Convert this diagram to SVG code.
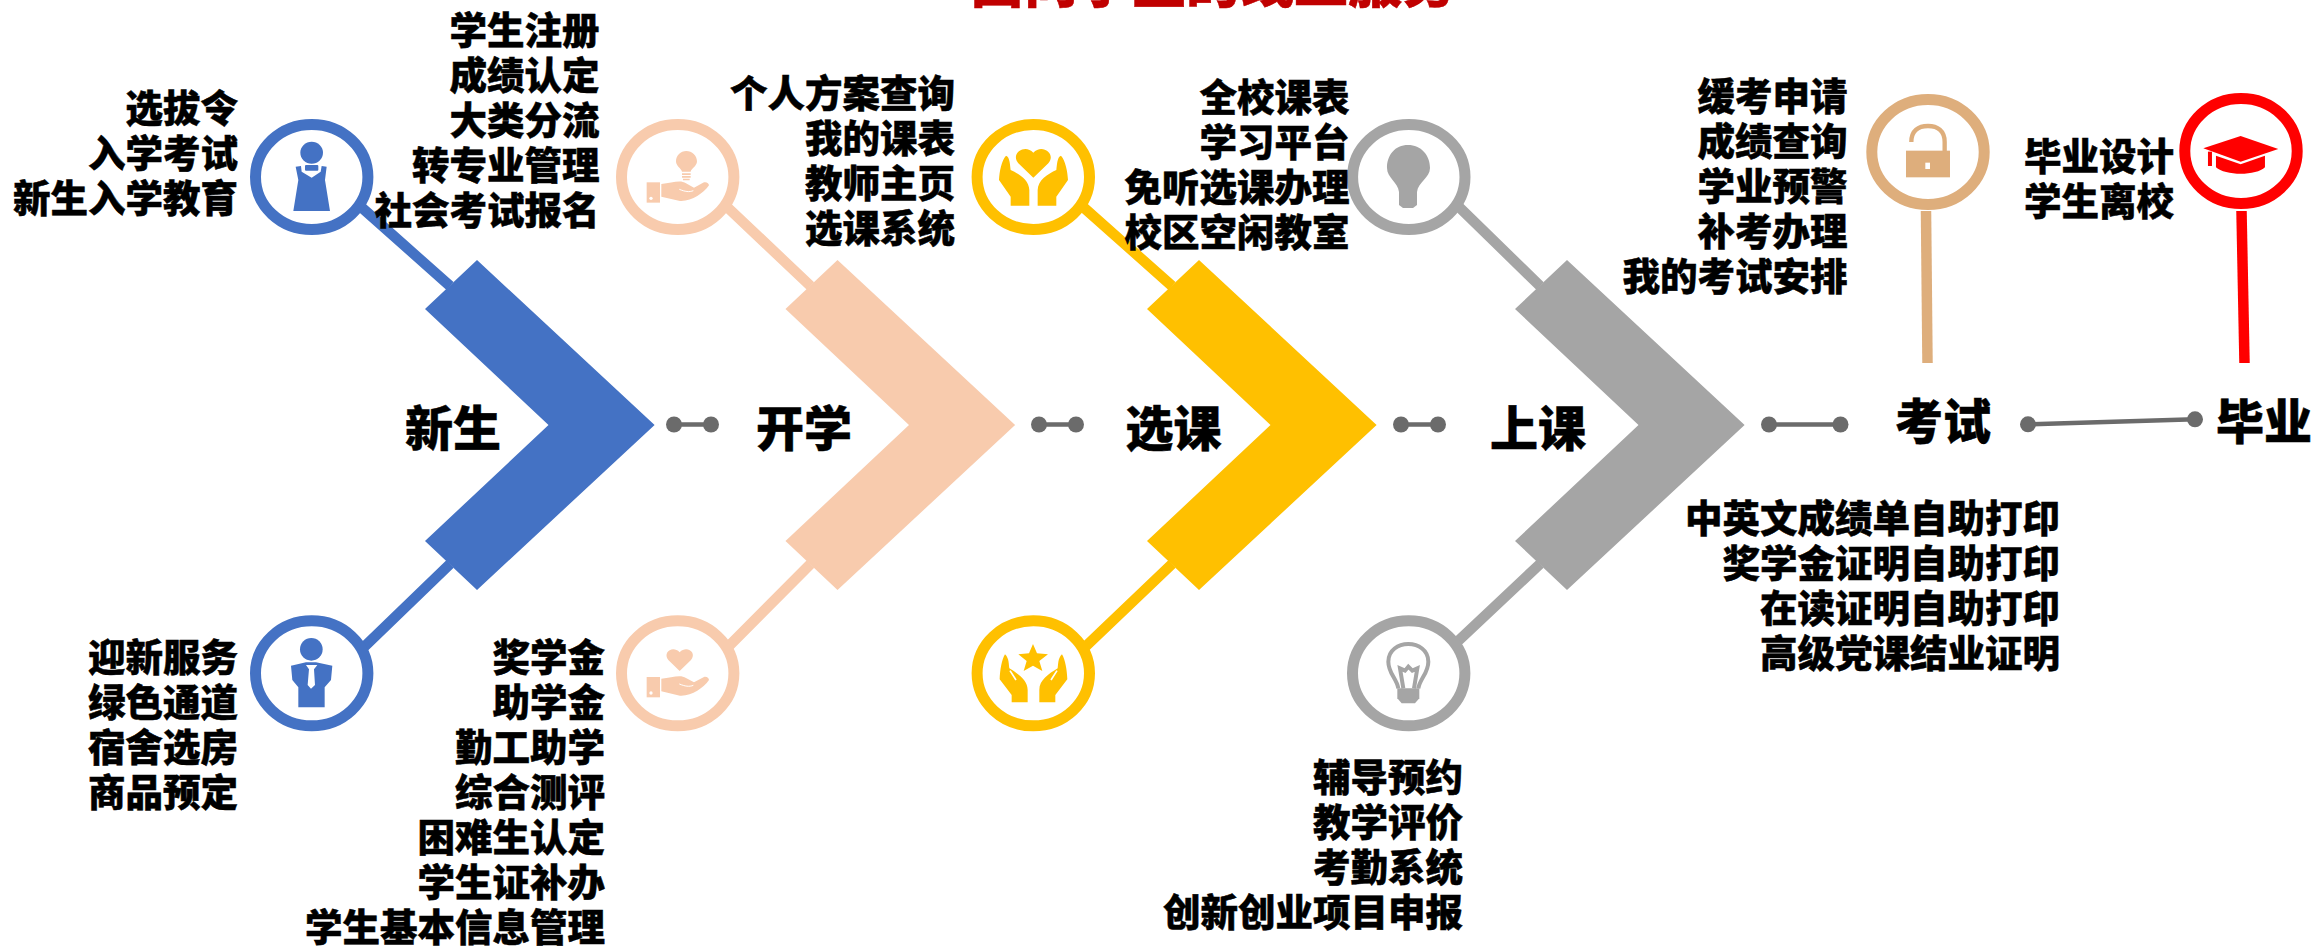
<svg xmlns="http://www.w3.org/2000/svg" xmlns:xlink="http://www.w3.org/1999/xlink" width="2317" height="948" viewBox="0 0 2317 948">
<style>
text{font-family:"Noto Sans CJK SC","Noto Sans",sans-serif;font-weight:900;fill:#000;stroke:#000;stroke-width:.5px}
.l{font-size:37.5px;text-anchor:end}
.s{font-size:48px;text-anchor:middle}
.t{font-size:54px;text-anchor:middle;fill:#C00000;stroke:#C00000}
.b{fill:#4472C4;stroke:#4472C4}.p{fill:#F8CBAD;stroke:#F8CBAD}.y{fill:#FFC000;stroke:#FFC000}.g{fill:#A5A5A5;stroke:#A5A5A5}.n{fill:#DEAE7C;stroke:#DEAE7C}.r{fill:#FF0000;stroke:#FF0000}
.ring{fill:#fff;stroke-width:11}
.ic{stroke:none}
.spoke{stroke-width:10.5;fill:none}
.link{stroke:#6B6B6B;stroke-width:4.5;fill:#6B6B6B}
.dot{fill:#6B6B6B;stroke:none}
</style>
<defs>
<polygon id="chev" points="477,260 654.6,425 477,590 425,541 548.5,425 425,309"/>
<g id="hand">
<rect x="140" y="247" width="40" height="61"/>
<circle cx="153" cy="295" r="5" fill="#fff"/>
<path d="M184 252C215 250 240 238 258 250L282 263L312 247C320 245 327 250 327 256C310 280 275 305 240 303L184 290Z"/>
<path d="M238 268C255 275 268 277 280 272" fill="none" stroke="#fff" stroke-width="3"/>
</g>
<path id="hh" d="M138 167C150 170 150 198 152 210C178 222 207 240 208 270L208 317L152 317L152 290L117 240C118 215 125 180 138 167Z"/>
<path id="hs" d="M135 163C148 175 146 195 148 205C175 222 203 240 203 270L203 307L155 307L155 285L119 238C120 210 125 180 135 163Z"/>
</defs>
<text class="t" x="1213" y="3">面向学生的线上服务</text>
<g id="connectors">
<g class="b"><path class="spoke" d="M360 206L450 286M362 649L450 564"/></g>
<g class="p"><path class="spoke" d="M726 206L810.5 286M726 649L810.5 564"/></g>
<g class="y"><path class="spoke" d="M1082 206L1172 286M1084 648L1172 564"/></g>
<g class="g"><path class="spoke" d="M1458 206L1540 286M1456 643L1540 564"/></g>
<path class="spoke n" d="M1926 211L1927.5 363"/>
<path class="spoke r" d="M2241.5 211L2244.5 363"/>
<g class="link">
<path d="M674 424.5H711M1039 424.5H1076M1401 424.5H1438M1769 424.5H1840.5M2028 424.3L2195 419.3"/>
<circle class="dot" cx="674" cy="424.5" r="8"/><circle class="dot" cx="711" cy="424.5" r="8"/>
<circle class="dot" cx="1039" cy="424.5" r="8"/><circle class="dot" cx="1076" cy="424.5" r="8"/>
<circle class="dot" cx="1401" cy="424.5" r="8"/><circle class="dot" cx="1438" cy="424.5" r="8"/>
<circle class="dot" cx="1769" cy="424.5" r="8"/><circle class="dot" cx="1840.5" cy="424.5" r="8"/>
<circle class="dot" cx="2028" cy="424.3" r="8"/><circle class="dot" cx="2195" cy="419.3" r="8"/>
</g>
</g>
<g id="stage-xinsheng">
<use xlink:href="#chev" href="#chev" class="b ic"/>
<text class="s" x="453" y="446">新生</text>
</g>
<g id="stage-kaixue">
<use xlink:href="#chev" href="#chev" x="360.5" class="p ic"/>
<text class="s" x="804" y="446">开学</text>
</g>
<g id="stage-xuanke">
<use xlink:href="#chev" href="#chev" x="722" class="y ic"/>
<text class="s" x="1173.5" y="446">选课</text>
</g>
<g id="stage-shangke">
<use xlink:href="#chev" href="#chev" x="1090" class="g ic"/>
<text class="s" x="1538" y="446">上课</text>
</g>
<g id="stage-kaoshi"><text class="s" x="1943" y="439">考试</text></g>
<g id="stage-biye"><text class="s" x="2264" y="439">毕业</text></g>

<g id="node-woman">
<ellipse class="b ring" cx="311.7" cy="177" rx="56.2" ry="52.5"/>
<g class="b ic" transform="translate(230 100) scale(.3333)">
<ellipse cx="245" cy="158" rx="34" ry="33"/>
<path d="M197 200L213 198L215 215L245 233L272 215L275 198L290 200L285 240L300 333L190 333L205 240Z"/>
<rect x="225" y="195" width="40" height="17" rx="3"/>
</g>
</g>
<g id="node-man">
<ellipse class="b ring" cx="311.7" cy="673.3" rx="56.2" ry="52.5"/>
<g class="b ic" transform="translate(230 600) scale(.3333)">
<circle cx="244" cy="148" r="34"/>
<path d="M183 197L228 187L258 187L307 197L303 240L284 262L284 322L205 322L205 262L187 240Z"/>
<path d="M228 195L262 195L252 208L255 255L243 266L233 255L237 208Z" style="fill:#fff"/>
</g>
</g>
<g id="node-bulb-hand">
<ellipse class="p ring" cx="677.7" cy="177" rx="56.2" ry="52.5"/>
<g class="p ic" transform="translate(600 100) scale(.3333)">
<use xlink:href="#hand" href="#hand"/>
<path d="M259 153C242 153 228 167 228 184C228 198 243 205 246 215L272 215C275 205 291 198 291 184C291 167 276 153 259 153Z"/>
<path d="M246 220H272V225H246ZM246 228H272V233H246ZM249 236H269V241H249Z"/>
</g>
</g>
<g id="node-heart-hand">
<ellipse class="p ring" cx="677.7" cy="673.3" rx="56.2" ry="52.5"/>
<g class="p ic" transform="translate(600 600) scale(.3333)">
<use xlink:href="#hand" href="#hand" y="-16"/>
<path d="M239 213L205 180C187 158 218 135 239 157C260 135 292 158 273 180Z"/>
</g>
</g>
<g id="node-heart-hands">
<ellipse class="y ring" cx="1033.3" cy="177" rx="56.2" ry="52.5"/>
<g class="y ic" transform="translate(960 100) scale(.3333)">
<use xlink:href="#hh" href="#hh"/>
<use xlink:href="#hh" href="#hh" transform="translate(441 0) scale(-1 1)"/>
<path d="M220 233L175 190C150 160 195 130 220 158C245 130 290 160 265 190Z"/>
</g>
</g>
<g id="node-star-hands">
<ellipse class="y ring" cx="1033.3" cy="673.3" rx="56.2" ry="52.5"/>
<g class="y ic" transform="translate(960 600) scale(.3333)">
<use xlink:href="#hs" href="#hs"/>
<use xlink:href="#hs" href="#hs" transform="translate(441 0) scale(-1 1)"/>
<path d="M150 212L168 240M291 212L273 240" stroke-width="5" style="fill:none;stroke:#fff"/>
<polygon points="219,132 231,160 264,163 238,183 247,213 219,197 191,213 200,183 175,163 207,160"/>
</g>
</g>
<g id="node-bulb">
<ellipse class="g ring" cx="1408.8" cy="177" rx="56.2" ry="52.5"/>
<path class="g ic" d="M1408 145C1395 145 1387 155 1387 168C1387 178 1398 182 1399 192L1399 205L1403 208L1413 208L1417 205L1417 192C1418 182 1430 178 1430 168C1430 155 1421 145 1408 145Z"/>
</g>
<g id="node-bulb-outline">
<ellipse class="g ring" cx="1408.7" cy="673.3" rx="56.2" ry="52.5"/>
<g transform="translate(1340 600) scale(.3333)">
<path d="M175 265C170 235 145 220 145 185C145 150 175 132 205 132C235 132 265 150 265 185C265 220 240 235 235 265M190 265L180 205L195 212L205 200L217 212L232 205L222 265" fill="none" stroke="#A5A5A5" stroke-width="12"/>
<path class="g ic" d="M172 265H238V295L225 310H185L172 295Z"/>
</g>
</g>
<g id="node-lock">
<ellipse class="n ring" cx="1928" cy="152" rx="56.2" ry="52.5"/>
<g transform="translate(1850 80) scale(.3333)">
<path d="M184 186C184 152 205 138 234 138C262 138 284 152 284 186L284 214" fill="none" stroke="#DEAE7C" stroke-width="13"/>
<rect class="n ic" x="168" y="212" width="132" height="80"/>
<rect x="226" y="248" width="14" height="19" fill="#fff"/>
</g>
</g>
<g id="node-cap">
<ellipse class="r ring" cx="2241" cy="151" rx="56.2" ry="52.5"/>
<g class="r ic" transform="translate(1850 80) scale(.3333)">
<path d="M1172 168L1285 207L1172 245L1060 205Z"/>
<path d="M1098 227L1172 253L1245 227L1245 262C1220 288 1125 288 1098 262Z"/>
<rect x="1074" y="215" width="12" height="43"/>
</g>
</g>

<g id="list-1"><text class="l" x="238" y="122">选拔令</text><text class="l" x="238" y="167">入学考试</text><text class="l" x="238" y="212">新生入学教育</text></g>
<g id="list-2"><text class="l" x="599.5" y="44">学生注册</text><text class="l" x="599.5" y="89">成绩认定</text><text class="l" x="599.5" y="134">大类分流</text><text class="l" x="599.5" y="179">转专业管理</text><text class="l" x="599.5" y="224">社会考试报名</text></g>
<g id="list-3"><text class="l" x="955" y="107">个人方案查询</text><text class="l" x="955" y="152">我的课表</text><text class="l" x="955" y="197">教师主页</text><text class="l" x="955" y="242">选课系统</text></g>
<g id="list-4"><text class="l" x="1349.5" y="111">全校课表</text><text class="l" x="1349.5" y="156">学习平台</text><text class="l" x="1349.5" y="201">免听选课办理</text><text class="l" x="1349.5" y="246">校区空闲教室</text></g>
<g id="list-5"><text class="l" x="1847.5" y="110">缓考申请</text><text class="l" x="1847.5" y="155">成绩查询</text><text class="l" x="1847.5" y="200">学业预警</text><text class="l" x="1847.5" y="245">补考办理</text><text class="l" x="1847.5" y="290">我的考试安排</text></g>
<g id="list-6"><text class="l" x="2174" y="170">毕业设计</text><text class="l" x="2174" y="215">学生离校</text></g>
<g id="list-7"><text class="l" x="238" y="671">迎新服务</text><text class="l" x="238" y="716">绿色通道</text><text class="l" x="238" y="761">宿舍选房</text><text class="l" x="238" y="806">商品预定</text></g>
<g id="list-8"><text class="l" x="605" y="671">奖学金</text><text class="l" x="605" y="716">助学金</text><text class="l" x="605" y="761">勤工助学</text><text class="l" x="605" y="806">综合测评</text><text class="l" x="605" y="851">困难生认定</text><text class="l" x="605" y="896">学生证补办</text><text class="l" x="605" y="941">学生基本信息管理</text></g>
<g id="list-9"><text class="l" x="1463" y="791">辅导预约</text><text class="l" x="1463" y="836">教学评价</text><text class="l" x="1463" y="881">考勤系统</text><text class="l" x="1463" y="926">创新创业项目申报</text></g>
<g id="list-10"><text class="l" x="2060" y="532">中英文成绩单自助打印</text><text class="l" x="2060" y="577">奖学金证明自助打印</text><text class="l" x="2060" y="622">在读证明自助打印</text><text class="l" x="2060" y="667">高级党课结业证明</text></g>
</svg>
